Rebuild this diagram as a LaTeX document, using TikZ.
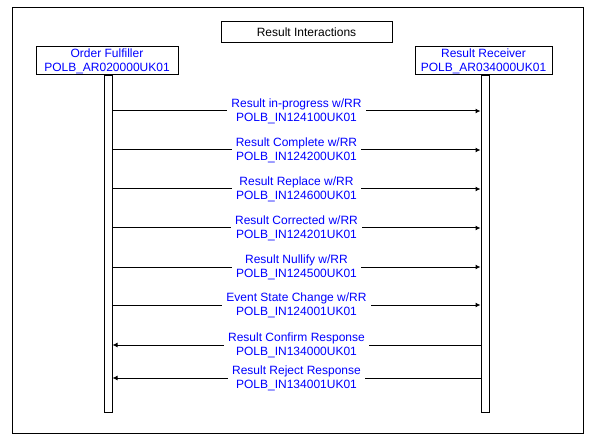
\documentclass[tikz,border=0pt]{standalone}
\usepackage{fontspec}
\setmainfont{Liberation Sans}
\usetikzlibrary{positioning,arrows.meta}
\definecolor{msgblue}{RGB}{0,0,255}

\begin{document}
\begin{tikzpicture}[x=1pt, y=-1pt,
	font=\fontsize{12}{14}\selectfont,
	every node/.style={inner sep=0pt},
	head/.style={draw, line width=1pt, minimum height=28pt, align=center, text=msgblue},
	lifeline/.style={draw, line width=1pt, minimum width=8pt, minimum height=337pt, anchor=north},
	msg/.style={line width=1pt, -{Latex[length=5pt,width=5pt]}},
	lbl/.style={fill=white, align=center, text=msgblue, inner xsep=4pt, inner ysep=1pt}]
	\useasboundingbox (0,0) rectangle (593,443);
	\draw[line width=1pt] (12,8) rectangle (583,433);
	
	%nodes
	\node (title) [draw, line width=1pt, minimum width=171pt, minimum height=21pt] at (306.5,32.5) {Result Interactions};
	
	\node (OF) [head, minimum width=142pt] at (107,61)   {Order Fulfiller\\POLB\_AR020000UK01};
	\node (RR) [head, minimum width=137pt] at (483.5,61) {Result Receiver\\POLB\_AR034000UK01};
	
	\node (OFline) [lifeline] at (108,75) {};
	\node (RRline) [lifeline] at (485,75) {};
	
	%links
	\draw[msg] (OFline.east |- 0,111) to node[lbl] {Result in-progress w/RR\\POLB\_IN124100UK01} (RRline.west |- 0,111);
	\draw[msg] (OFline.east |- 0,150) to node[lbl] {Result Complete w/RR\\POLB\_IN124200UK01} (RRline.west |- 0,150);
	\draw[msg] (OFline.east |- 0,189) to node[lbl] {Result Replace w/RR\\POLB\_IN124600UK01} (RRline.west |- 0,189);
	\draw[msg] (OFline.east |- 0,228) to node[lbl] {Result Corrected w/RR\\POLB\_IN124201UK01} (RRline.west |- 0,228);
	\draw[msg] (OFline.east |- 0,267) to node[lbl] {Result Nullify w/RR\\POLB\_IN124500UK01} (RRline.west |- 0,267);
	\draw[msg] (OFline.east |- 0,305) to node[lbl] {Event State Change w/RR\\POLB\_IN124001UK01} (RRline.west |- 0,305);
	\draw[msg] (RRline.west |- 0,345) to node[lbl] {Result Confirm Response\\POLB\_IN134000UK01} (OFline.east |- 0,345);
	\draw[msg] (RRline.west |- 0,378) to node[lbl] {Result Reject Response\\POLB\_IN134001UK01} (OFline.east |- 0,378);
\end{tikzpicture}
\end{document}
